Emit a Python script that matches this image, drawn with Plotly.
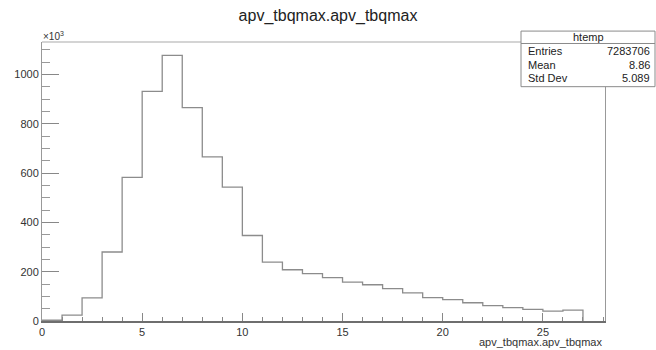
import plotly.graph_objects as go

# ---- data ----
bin_edges = list(range(0, 28))  # 0..27
counts_k = [3, 24, 94, 280, 583, 932, 1078, 866, 666, 543, 347, 239, 208, 192,
            176, 158, 147, 131, 114, 95, 87, 74, 62, 54, 47, 40, 44]
stats_labels = ["Entries", "Mean", "Std Dev"]
stats_values = ["7283706", "8.86", "5.089"]
hist_name = "htemp"
title_text = "apv_tbqmax.apv_tbqmax"
xaxis_title = "apv_tbqmax.apv_tbqmax"
y_tickvals = [0, 200, 400, 600, 800, 1000]
x_tickvals = [0, 5, 10, 15, 20, 25]

# ---- step outline from bins ----
xs, ys = [bin_edges[0]], [0]
for i, v in enumerate(counts_k):
    xs += [bin_edges[i], bin_edges[i + 1]]
    ys += [v, v]
xs.append(bin_edges[-1]); ys.append(0)

W, H = 656, 350
L, R, T, B = 42, 605, 42, 323
FONT = "Liberation Sans, Arial, Helvetica, sans-serif"

def px(x):
    return (x - L) / (R - L)

def py(y):
    return (B - y) / (B - T)

fig = go.Figure()
fig.add_trace(go.Scatter(x=xs, y=ys, mode="lines",
                         line=dict(color="#8c8c8c", width=1.3),
                         hoverinfo="skip", showlegend=False))

fig.update_layout(
    width=W, height=H,
    margin=dict(l=L, r=W - R, t=T, b=H - B),
    paper_bgcolor="white", plot_bgcolor="white",
    font=dict(family=FONT, color="#333", size=11),
    showlegend=False,
    title=dict(text=title_text, x=0.5, xanchor="center", y=1 - 15 / H,
               yanchor="middle", font=dict(size=16, color="#222")),
)
fig.update_xaxes(
    range=[0, 28.1], tickvals=x_tickvals, showgrid=False, zeroline=False,
    showline=True, linecolor="#6e6e6e", linewidth=1.6,
    ticks="inside", ticklen=8, tickcolor="#888", tickwidth=1,
    minor=dict(dtick=1, ticks="inside", ticklen=4, tickcolor="#888", tickwidth=1),
    tickfont=dict(size=11, color="#333"),
)
fig.update_yaxes(
    range=[0, 1132], tickvals=y_tickvals, showgrid=False, zeroline=False,
    showline=True, linecolor="#999", linewidth=1, mirror=True,
    ticks="inside", ticklen=17, tickcolor="#888", tickwidth=1,
    minor=dict(dtick=50, ticks="inside", ticklen=8, tickcolor="#999", tickwidth=1),
    tickfont=dict(size=11, color="#333"),
)

shapes = [
    # top frame line
    dict(type="line", xref="paper", yref="paper", x0=0, x1=1, y0=1, y1=1,
         line=dict(color="#aaa", width=1.2), layer="above"),
    # stats box
    dict(type="rect", xref="paper", yref="paper", x0=px(521), x1=px(655),
         y0=py(87), y1=py(31), fillcolor="white",
         line=dict(color="#8a8a8a", width=1), layer="above"),
    dict(type="line", xref="paper", yref="paper", x0=px(521), x1=px(655),
         y0=py(43.5), y1=py(43.5), line=dict(color="#8a8a8a", width=1), layer="above"),
]
fig.update_layout(shapes=shapes)

ann = [
    dict(text="×10<sup>3</sup>", xref="paper", yref="paper", x=px(41), y=py(36),
         xanchor="left", yanchor="middle", showarrow=False,
         font=dict(size=10, color="#333")),
    dict(text=xaxis_title, xref="paper", yref="paper", x=px(604), y=py(344),
         xanchor="right", yanchor="middle", showarrow=False,
         font=dict(size=11, color="#333")),
    dict(text=hist_name, xref="paper", yref="paper", x=px(588), y=py(37),
         xanchor="center", yanchor="middle", showarrow=False,
         font=dict(size=11, color="#222")),
]
row_y = [51.5, 65, 78]
for lab, val, yy in zip(stats_labels, stats_values, row_y):
    ann.append(dict(text=lab, xref="paper", yref="paper", x=px(526), y=py(yy),
                    xanchor="left", yanchor="middle", showarrow=False,
                    font=dict(size=11, color="#222")))
    ann.append(dict(text=val, xref="paper", yref="paper", x=px(652), y=py(yy),
                    xanchor="right", yanchor="middle", showarrow=False,
                    font=dict(size=11, color="#222")))
fig.update_layout(annotations=ann)

fig.write_html("out.html")
